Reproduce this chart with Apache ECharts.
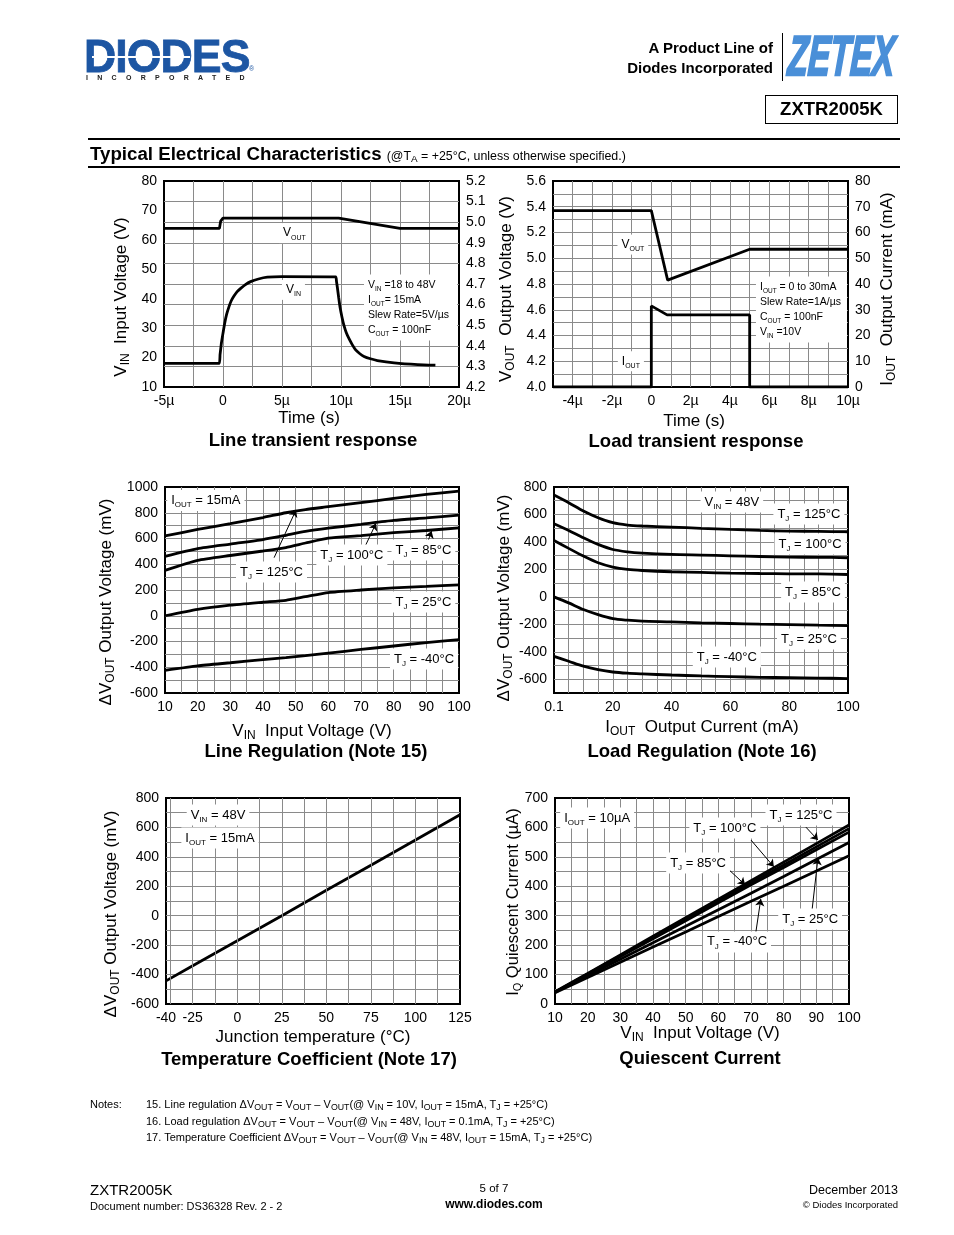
<!DOCTYPE html>
<html>
<head>
<meta charset="utf-8">
<title>ZXTR2005K Typical Electrical Characteristics</title>
<script src="https://cdn.jsdelivr.net/npm/echarts@6/dist/echarts.min.js"></script>
<style>
html,body{margin:0;padding:0;background:#fff;}
#page{position:relative;width:954px;height:1235px;overflow:hidden;font-family:'Liberation Sans',Arial,Helvetica,sans-serif;color:#000;}
#chart{position:absolute;left:0;top:0;width:954px;height:1235px;}
.t{position:absolute;white-space:nowrap;line-height:1;}
sub{font-size:0.8em;vertical-align:-0.2em;line-height:0;}
</style>
</head>
<body>
<div id="page">
  <div id="chart"></div>

  <!-- header -->
  <div class="t" style="left:84px;top:32px;font-size:47px;font-weight:bold;color:#1d56a3;letter-spacing:-1px;transform:scaleX(0.95);transform-origin:0 0;-webkit-text-stroke:0.8px #1d56a3;">DIODES</div>
  <div style="position:absolute;left:92px;top:56px;width:98px;height:1.5px;background:#fff;"></div>
  <div class="t" style="left:86px;top:74px;font-size:7px;font-weight:bold;color:#222;letter-spacing:9.3px;">INCORPORATED</div>
  <div class="t" style="left:249px;top:65px;font-size:7px;color:#1d56a3;">®</div>
  <div class="t" style="left:790px;top:27.7px;font-size:56px;font-weight:bold;font-style:italic;color:#4a8fd8;-webkit-text-stroke:2.4px #4a8fd8;transform:scaleX(0.59) skewX(-6deg);transform-origin:0 0;">ZETEX</div>
  <div style="position:absolute;left:782px;top:33px;width:1px;height:48px;background:#000;"></div>
  <div class="t" style="right:181px;top:40.3px;font-size:15px;font-weight:bold;">A Product Line of</div>
  <div class="t" style="right:181px;top:60.3px;font-size:15px;font-weight:bold;">Diodes Incorporated</div>
  <div style="position:absolute;left:765px;top:95px;width:133px;height:29px;border:1.5px solid #000;box-sizing:border-box;text-align:center;line-height:26px;font-size:18.5px;font-weight:bold;">ZXTR2005K</div>
  <div style="position:absolute;left:88px;top:138px;width:812px;height:2px;background:#000;"></div>
  <div class="t" style="left:90px;top:145px;font-size:18.7px;font-weight:bold;">Typical Electrical Characteristics <span style="font-size:12.4px;font-weight:normal;">(@T<sub>A</sub> = +25°C, unless otherwise specified.)</span></div>
  <div style="position:absolute;left:88px;top:166px;width:812px;height:2px;background:#000;"></div>

  <!-- notes -->
  <div class="t" style="left:90px;top:1096px;font-size:11px;line-height:16.5px;">Notes:</div>
  <div class="t" style="left:146px;top:1096px;font-size:11px;line-height:16.5px;">
    15. Line regulation ΔV<sub>OUT</sub> = V<sub>OUT</sub> – V<sub>OUT</sub>(@ V<sub>IN</sub> = 10V, I<sub>OUT</sub> = 15mA, T<sub>J</sub> = +25°C)<br>
    16. Load regulation ΔV<sub>OUT</sub> = V<sub>OUT</sub> – V<sub>OUT</sub>(@ V<sub>IN</sub> = 48V, I<sub>OUT</sub> = 0.1mA, T<sub>J</sub> = +25°C)<br>
    17. Temperature Coefficient ΔV<sub>OUT</sub> = V<sub>OUT</sub> – V<sub>OUT</sub>(@ V<sub>IN</sub> = 48V, I<sub>OUT</sub> = 15mA, T<sub>J</sub> = +25°C)
  </div>

  <!-- footer -->
  <div class="t" style="left:90px;top:1182.3px;font-size:15px;">ZXTR2005K</div>
  <div class="t" style="left:90px;top:1200.7px;font-size:11px;">Document number: DS36328 Rev. 2 - 2</div>
  <div class="t" style="left:394px;width:200px;text-align:center;top:1183.3px;font-size:11.5px;">5 of 7</div>
  <div class="t" style="left:394px;width:200px;text-align:center;top:1197.8px;font-size:12px;font-weight:bold;">www.diodes.com</div>
  <div class="t" style="right:56px;top:1184.4px;font-size:12.5px;">December 2013</div>
  <div class="t" style="right:56px;top:1200.4px;font-size:9.5px;">© Diodes Incorporated</div>
</div>

<script>
const FONT = "'Liberation Sans', Arial, Helvetica, sans-serif";
const GRID_COLOR = '#8a8a8a';

// ---------- Line transient response (time in µs) ----------
const ltVin  = [[-5,18],[-0.34,18],[-0.25,21],[-0.14,24.8],[0,28.3],[0.14,31.6],[0.3,34.6],[0.51,37.3],[0.7,39.3],[0.93,40.9],[1.2,42.4],[1.5,43.5],[1.9,44.8],[2.34,45.8],[3,46.7],[3.76,47.3],[5,47.5],[9.55,47.4],[9.62,45.8],[9.69,43.9],[9.8,40.5],[9.92,37.1],[10.08,33.8],[10.25,30.9],[10.45,28.4],[10.68,26.4],[10.95,24.4],[11.24,22.6],[11.6,21.3],[11.95,20.4],[12.5,19.6],[13.08,19.0],[14.5,18.2],[16.5,17.6],[18,17.4]];
const ltVout = [[-5,4.97],[-0.3,4.97],[-0.2,5.005],[0,5.02],[9.8,5.02],[15,4.97],[20,4.97]];
const ltXLabels = [-5,0,5,10,15,20];

// ---------- Load transient response (time in µs) ----------
const ldtVout = [[-5,5.37],[0,5.37],[0.83,4.83],[5,5.07],[10,5.07]];
const ldtIout = [[-5,0],[0,0],[0,31.5],[0.8,28],[5,28],[5,0],[10,0]];
const ldtXLabels = [-4,-2,0,2,4,6,8,10];
const ldtYLabels = [4.0,4.2,4.4,4.6,4.8,5.0,5.2,5.4,5.6];

// ---------- Line regulation ----------
const lrVin   = [10,20,30,40,47,53,60,70,80,90,100];
const lrT125  = [620,670,715,763,800,825,847,879,911,942,968];
const lrT100  = [462,522,557,592,625,655,680,710,740,760,782];
const lrT85   = [352,430,468,503,530,565,603,622,645,662,683];
const lrT25   = [0,50,82,105,120,148,180,200,217,228,240];
const lrTm40  = [-425,-390,-365,-340,-325,-310,-290,-262,-235,-208,-185];
const lrXLabels = [10,20,30,40,50,60,70,80,90,100];
const lrYLabels = [-600,-400,-200,0,200,400,600,800,1000];

// ---------- Load regulation ----------
const lgIout  = [0,5,10,15,20,25,30,40,50,60,70,80,90,100];
const lgT125  = [742,686,625,576,540,523,516,508,499,491,484,479,477,474];
const lgT100  = [533,484,430,382,345,328,319,309,304,299,294,289,288,285];
const lgT85   = [411,353,297,248,217,200,192,183,178,173,170,168,167,163];
const lgT25   = [0,-44,-92,-129,-158,-170,-177,-182,-189,-194,-199,-202,-206,-209];
const lgTm40  = [-433,-469,-505,-530,-547,-556,-561,-569,-576,-581,-586,-588,-591,-595];
const lgXLabels = [0,20,40,60,80,100];
const lgYLabels = [-600,-400,-200,0,200,400,600,800];

// ---------- Temperature coefficient ----------
const tcTemp = [-40,-25,0,25,50,75,100,125];
const tcDv   = [-443,-340,-170,0,173,343,515,686];
const tcXLabels = [-40,-25,0,25,50,75,100,125];
const tcXGrid   = [-37.5,-25,-12.5,0,12.5,25,37.5,50,62.5,75,87.5,100,112.5];
const tcYLabels = [-600,-400,-200,0,200,400,600,800];

// ---------- Quiescent current ----------
const qcVin  = [10,20,30,40,50,60,70,80,90,100];
const qcT125 = [42,104,167,230,293,356,419,482,545,608];
const qcT100 = [40,102,164,226,288,350,411,472,534,596];
const qcT85  = [40,100,161,222,283,344,405,464,524,584];
const qcT25  = [40,96,152,208,264,320,376,433,491,549];
const qcTm40 = [38,90,142,194,245,297,349,400,452,504];
const qcXLabels = [10,20,30,40,50,60,70,80,90,100];
const qcYLabels = [0,100,200,300,400,500,600,700];

// ---------- helpers ----------
const zip = (xs, ys) => xs.map((x, i) => [x, ys[i]]);
const inList = (list, v) => list.some(t => Math.abs(t - v) < 1e-6);
const pick = (list, fmt) => v => inList(list, v) ? fmt(v) : '';
const micro = v => Math.abs(v) < 1e-9 ? '0' : (Math.round(v*100)/100) + 'µ';

const gridBase = {show:true, borderColor:'#000', borderWidth:2, backgroundColor:'#fff'};
const grids = [
  {left:164, top:181, width:295, height:206},
  {left:553, top:181, width:295, height:206},
  {left:165, top:487, width:294, height:206},
  {left:554, top:487, width:294, height:206},
  {left:166, top:798, width:294, height:206},
  {left:555, top:798, width:294, height:206}
].map(g => Object.assign({}, gridBase, g));

function axis(o) {
  return Object.assign({
    type:'value',
    axisLine:{show:false}, axisTick:{show:false}
  }, o, {
    axisLabel: Object.assign({color:'#000', fontSize:14, fontFamily:FONT, margin:7, showMinLabel:true, showMaxLabel:true}, o.axisLabel || {}),
    splitLine: Object.assign({show:true, showMinLine:false, showMaxLine:false, lineStyle:{color:GRID_COLOR, width:1}}, o.splitLine || {})
  });
}

const xAxes = [
  axis({gridIndex:0, min:-5, max:20, interval:2.5, axisLabel:{formatter:pick(ltXLabels, micro)}}),
  axis({gridIndex:1, min:-5, max:10, interval:1, axisLabel:{formatter:pick(ldtXLabels, micro)}}),
  axis({gridIndex:2, min:10, max:100, interval:5, axisLabel:{formatter:pick(lrXLabels, v => String(v))}}),
  axis({gridIndex:3, min:0, max:100, interval:5, axisLabel:{formatter:pick(lgXLabels, v => v === 0 ? '0.1' : String(v))}}),
  axis({gridIndex:4, min:-40, max:125, interval:5, splitLine:{show:false}, axisLabel:{formatter:pick(tcXLabels, v => String(v))}}),
  axis({gridIndex:5, min:10, max:100, interval:5, axisLabel:{formatter:pick(qcXLabels, v => String(v))}})
];

const yAxes = [
  axis({gridIndex:0, min:10, max:80, interval:10, position:'left', splitLine:{show:false}}),
  axis({gridIndex:0, min:4.2, max:5.2, interval:0.1, position:'right', axisLabel:{formatter:v => v.toFixed(1)}}),
  axis({gridIndex:1, min:4.0, max:5.6, interval:0.1, position:'left', axisLabel:{formatter:pick(ldtYLabels, v => v.toFixed(1))}}),
  axis({gridIndex:1, min:0, max:80, interval:10, position:'right', splitLine:{show:false}}),
  axis({gridIndex:2, min:-600, max:1000, interval:100, axisLabel:{formatter:pick(lrYLabels, v => String(v))}}),
  axis({gridIndex:3, min:-700, max:800, interval:100, axisLabel:{formatter:pick(lgYLabels, v => String(v))}}),
  axis({gridIndex:4, min:-600, max:800, interval:100, axisLabel:{formatter:pick(tcYLabels, v => String(v))}}),
  axis({gridIndex:5, min:0, max:700, interval:50, axisLabel:{formatter:pick(qcYLabels, v => String(v))}})
];

function line(xi, yi, data, extra) {
  return Object.assign({
    type:'line', xAxisIndex:xi, yAxisIndex:yi, data:data,
    symbol:'none', showSymbol:false, silent:true, animation:false, z:3,
    lineStyle:{color:'#000', width:2.8}
  }, extra || {});
}
function arrows(list) {
  return {
    silent:true, animation:false, symbol:['none','arrow'], symbolSize:7,
    label:{show:false}, lineStyle:{color:'#000', width:1, type:'solid'},
    itemStyle:{color:'#000'},
    data: list.map(a => [{coord:a[0]}, {coord:a[1]}])
  };
}

const lrArrows = [
  [[43.4,451],[50.1,821]],
  [[71.2,536],[74.6,718]],
  [[90.1,549],[91.6,658]]
];
const qcArrows = [
  [[86.8,601],[90.5,557]],
  [[70,557],[77,466]],
  [[62.3,466],[68.2,405]],
  [[88.7,320],[90.5,496]],
  [[71.5,245],[73,357]]
];

const series = [
  line(0,0, ltVin, {smooth:0.15}),
  line(0,1, ltVout),
  line(1,2, ldtVout),
  line(1,3, ldtIout),
  line(2,4, zip(lrVin, lrT125), {smooth:0.2, markLine:arrows(lrArrows)}),
  line(2,4, zip(lrVin, lrT100), {smooth:0.2}),
  line(2,4, zip(lrVin, lrT85),  {smooth:0.2}),
  line(2,4, zip(lrVin, lrT25),  {smooth:0.2}),
  line(2,4, zip(lrVin, lrTm40), {smooth:0.2}),
  line(3,5, zip(lgIout, lgT125), {smooth:0.3}),
  line(3,5, zip(lgIout, lgT100), {smooth:0.3}),
  line(3,5, zip(lgIout, lgT85),  {smooth:0.3}),
  line(3,5, zip(lgIout, lgT25),  {smooth:0.3}),
  line(3,5, zip(lgIout, lgTm40), {smooth:0.3}),
  line(4,6, [[-40,-600]], {z:1, lineStyle:{opacity:0}, markLine:{
      silent:true, animation:false, symbol:['none','none'], label:{show:false},
      lineStyle:{color:GRID_COLOR, width:1, type:'solid'},
      data: tcXGrid.map(v => ({xAxis:v}))
  }}),
  line(4,6, zip(tcTemp, tcDv)),
  line(5,7, zip(qcVin, qcT125), {markLine:arrows(qcArrows)}),
  line(5,7, zip(qcVin, qcT100)),
  line(5,7, zip(qcVin, qcT85)),
  line(5,7, zip(qcVin, qcT25)),
  line(5,7, zip(qcVin, qcTm40))
];

const chart = echarts.init(document.getElementById('chart'), null, {renderer:'canvas'});
chart.setOption({animation:false, grid:grids, xAxis:xAxes, yAxis:yAxes, series:series});

// ---------- text (rich, '~' toggles subscript) ----------
function rt(str) {
  return str.split('\n').map(l => l.split('~').map((seg, i) =>
    seg === '' ? '' : '{' + (i % 2 ? 's' : 'n') + '|' + seg + '}').join('')).join('\n');
}
function textEl(x, y, str, o) {
  o = o || {};
  const size = o.size || 13;
  const sub = o.sub || Math.round(size * 0.62);
  const lh = o.lh || Math.round(size * 1.3);
  const w = o.bold ? 'bold' : 'normal';
  const al = o.align || 'center', va = o.va || 'middle';
  const style = {
    text: rt(str), align: al, textAlign: al, verticalAlign: va, textVerticalAlign: va,
    rich: {
      n: {fontSize:size, fontFamily:FONT, fontWeight:w, fill:'#000', color:'#000', lineHeight:lh, verticalAlign:'middle'},
      s: {fontSize:sub, fontFamily:FONT, fontWeight:w, fill:'#000', color:'#000', lineHeight:sub + 1, verticalAlign:'bottom'}
    }
  };
  if (o.bg) { style.backgroundColor = '#fff'; style.padding = o.pad || [2,4]; }
  return {type:'text', x:x, y:y, rotation:o.rot || 0, z:100, silent:true, style:style};
}

const R = Math.PI / 2;
const staticText = [
  textEl(121, 297, 'V~IN~  Input Voltage (V)', {size:17, sub:12, rot:R}),
  textEl(309, 418, 'Time (s)', {size:17}),
  textEl(313, 441, 'Line transient response', {size:18.5, bold:true}),
  textEl(506, 289, 'V~OUT~  Output Voltage (V)', {size:17, sub:12, rot:R}),
  textEl(887, 289, 'I~OUT~  Output Current (mA)', {size:17, sub:12, rot:R}),
  textEl(694, 421, 'Time (s)', {size:17}),
  textEl(696, 442, 'Load transient response', {size:18.5, bold:true}),
  textEl(106, 602, 'ΔV~OUT~ Output Voltage (mV)', {size:17, sub:12, rot:R}),
  textEl(312, 731, 'V~IN~  Input Voltage (V)', {size:17, sub:12}),
  textEl(316, 752, 'Line Regulation (Note 15)', {size:18.5, bold:true}),
  textEl(504, 598, 'ΔV~OUT~ Output Voltage (mV)', {size:17, sub:12, rot:R}),
  textEl(702, 727, 'I~OUT~  Output Current (mA)', {size:17, sub:12}),
  textEl(702, 752, 'Load Regulation (Note 16)', {size:18.5, bold:true}),
  textEl(111, 914, 'ΔV~OUT~ Output Voltage (mV)', {size:17, sub:12, rot:R}),
  textEl(313, 1037, 'Junction temperature (°C)', {size:17}),
  textEl(309, 1060, 'Temperature Coefficient (Note 17)', {size:18.5, bold:true}),
  textEl(513, 902, 'I~Q~ Quiescent Current (µA)', {size:16.5, sub:11, rot:R}),
  textEl(700, 1033, 'V~IN~  Input Voltage (V)', {size:17, sub:12}),
  textEl(700, 1059, 'Quiescent Current', {size:18.5, bold:true})
];

const AX = [[0,0],[1,2],[2,4],[3,5],[4,6],[5,7]];
const notes = [
  {c:0, p:[6.06,62.3], t:'V~OUT~', size:12, sub:7},
  {c:0, p:[5.97,43], t:'V~IN~', size:12, sub:7},
  {c:0, p:[11.95,48.2], t:'V~IN~ =18 to 48V\nI~OUT~= 15mA\nSlew Rate=5V/µs\nC~OUT~ = 100nF', size:10.5, sub:6.5, lh:15, align:'left', va:'top', pad:[3,8,3,4]},
  {c:1, p:[-0.94,5.106], t:'V~OUT~', size:12, sub:7},
  {c:1, p:[-1.04,4.2], t:'I~OUT~', size:12, sub:7},
  {c:1, p:[5.32,4.858], t:'I~OUT~ = 0 to 30mA\nSlew Rate=1A/µs\nC~OUT~ = 100nF\nV~IN~ =10V', size:10.5, sub:6.5, lh:15, align:'left', va:'top', pad:[3,6,3,4]},
  {c:2, p:[22.5,895], t:'I~OUT~ = 15mA'},
  {c:2, p:[42.6,340], t:'T~J~ = 125°C'},
  {c:2, p:[67.2,472], t:'T~J~ = 100°C'},
  {c:2, p:[89.1,511], t:'T~J~ = 85°C'},
  {c:2, p:[89.1,107], t:'T~J~ = 25°C'},
  {c:2, p:[89.3,-336], t:'T~J~ = -40°C'},
  {c:3, p:[60.5,691], t:'V~IN~ = 48V'},
  {c:3, p:[86.7,603], t:'T~J~ = 125°C'},
  {c:3, p:[87.1,385], t:'T~J~ = 100°C'},
  {c:3, p:[88.1,35], t:'T~J~ = 85°C'},
  {c:3, p:[86.7,-307], t:'T~J~ = 25°C'},
  {c:3, p:[58.8,-438], t:'T~J~ = -40°C'},
  {c:4, p:[-10.8,684], t:'V~IN~ = 48V'},
  {c:4, p:[-9.7,528], t:'I~OUT~ = 15mA'},
  {c:5, p:[22.9,632], t:'I~OUT~ = 10µA'},
  {c:5, p:[85.3,642], t:'T~J~ = 125°C'},
  {c:5, p:[62,598], t:'T~J~ = 100°C'},
  {c:5, p:[53.8,479], t:'T~J~ = 85°C'},
  {c:5, p:[88.1,289], t:'T~J~ = 25°C'},
  {c:5, p:[65.7,211], t:'T~J~ = -40°C'}
];

const noteEls = notes.map(n => {
  const px = chart.convertToPixel({xAxisIndex:AX[n.c][0], yAxisIndex:AX[n.c][1]}, n.p);
  return textEl(px[0], px[1], n.t, {size:n.size || 13, sub:n.sub || 8, lh:n.lh, align:n.align, va:n.va, bg:true, pad:n.pad || [2,4]});
});

chart.setOption({graphic: staticText.concat(noteEls)});
</script>
</body>
</html>
